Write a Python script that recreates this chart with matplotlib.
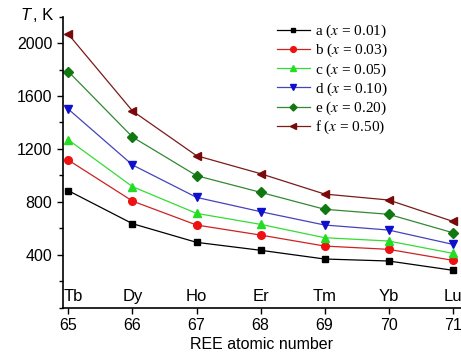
import matplotlib
matplotlib.use('Agg')
import matplotlib.pyplot as plt
from matplotlib.ticker import MultipleLocator

# REE atomic numbers and element symbols
atomic_num = [65, 66, 67, 68, 69, 70, 71]
elements = ['Tb', 'Dy', 'Ho', 'Er', 'Tm', 'Yb', 'Lu']

# temperatures T, K for each composition
t_a = [884, 635, 494, 434, 368, 353, 283]
t_b = [1115, 806, 625, 549, 466, 441, 358]
t_c = [1268, 915, 713, 630, 529, 504, 411]
t_d = [1500, 1079, 834, 726, 625, 587, 479]
t_e = [1784, 1290, 998, 872, 744, 706, 567]
t_f = [2066, 1487, 1149, 1013, 859, 814, 653]

labels = ['a', 'b', 'c', 'd', 'e', 'f']
x_vals = ['0.01', '0.03', '0.05', '0.10', '0.20', '0.50']

plt.rcParams['font.family'] = ['Liberation Sans', 'DejaVu Sans']
plt.rcParams['mathtext.fontset'] = 'stix'

fig = plt.figure(figsize=(4.61, 3.58), dpi=100)
ax = fig.add_axes([0.136, 0.1405, 0.864, 0.813])

series = [t_a, t_b, t_c, t_d, t_e, t_f]
markers = ['s', 'o', '^', 'v', 'D', '<']
mcolors = ['black', '#ee1111', '#22dd22', '#1010cc', '#117711', '#7a0a0a']
lcolors = ['black', '#cc2222', '#33dd33', '#4444bb', '#338833', '#7a1a1a']
msizes = [4.8, 5.5, 6, 6, 4.8, 6]

for ys, lab, xv, mk, mc, lc, ms in zip(series, labels, x_vals, markers,
                                       mcolors, lcolors, msizes):
    ax.plot(atomic_num, ys, color=lc, lw=0.9, marker=mk, ms=ms,
            mfc=mc, mec=mc, label=r'%s ($x$ = %s)' % (lab, xv))

ax.set_xlim(64.91, 71.13)
ax.set_ylim(0, 2200)
ax.set_xticks(atomic_num)
ax.yaxis.set_major_locator(MultipleLocator(400))
ax.yaxis.set_minor_locator(MultipleLocator(200))
ax.set_yticks([400, 800, 1200, 1600, 2000])
ax.tick_params(axis='both', labelsize=11.5, direction='out', width=1, length=4)
ax.tick_params(axis='y', which='minor', direction='out', length=3, width=1)

ax.spines['top'].set_visible(False)
ax.spines['right'].set_visible(False)
ax.spines['left'].set_linewidth(1.2)
ax.spines['bottom'].set_linewidth(1.2)

for xn, el in zip(atomic_num, elements):
    xpos = xn + 0.08 if el == 'Tb' else xn
    ax.text(xpos, 30, el, ha='center', va='bottom', fontsize=12)

ax.set_xlabel('REE atomic number', fontsize=11.5, labelpad=3)
fig.text(0.044, 0.958, 'T', fontsize=12, style='italic', va='center', ha='left')
fig.text(0.071, 0.958, ', K', fontsize=12, va='center', ha='left')

leg = ax.legend(loc='upper left', bbox_to_anchor=(0.51, 1.015), frameon=False,
                prop={'family': 'Liberation Serif', 'size': 11},
                handlelength=2.2, handletextpad=0.3, labelspacing=0.12,
                borderpad=0.2, markerscale=0.75)

fig.savefig('out.png', dpi=100)
